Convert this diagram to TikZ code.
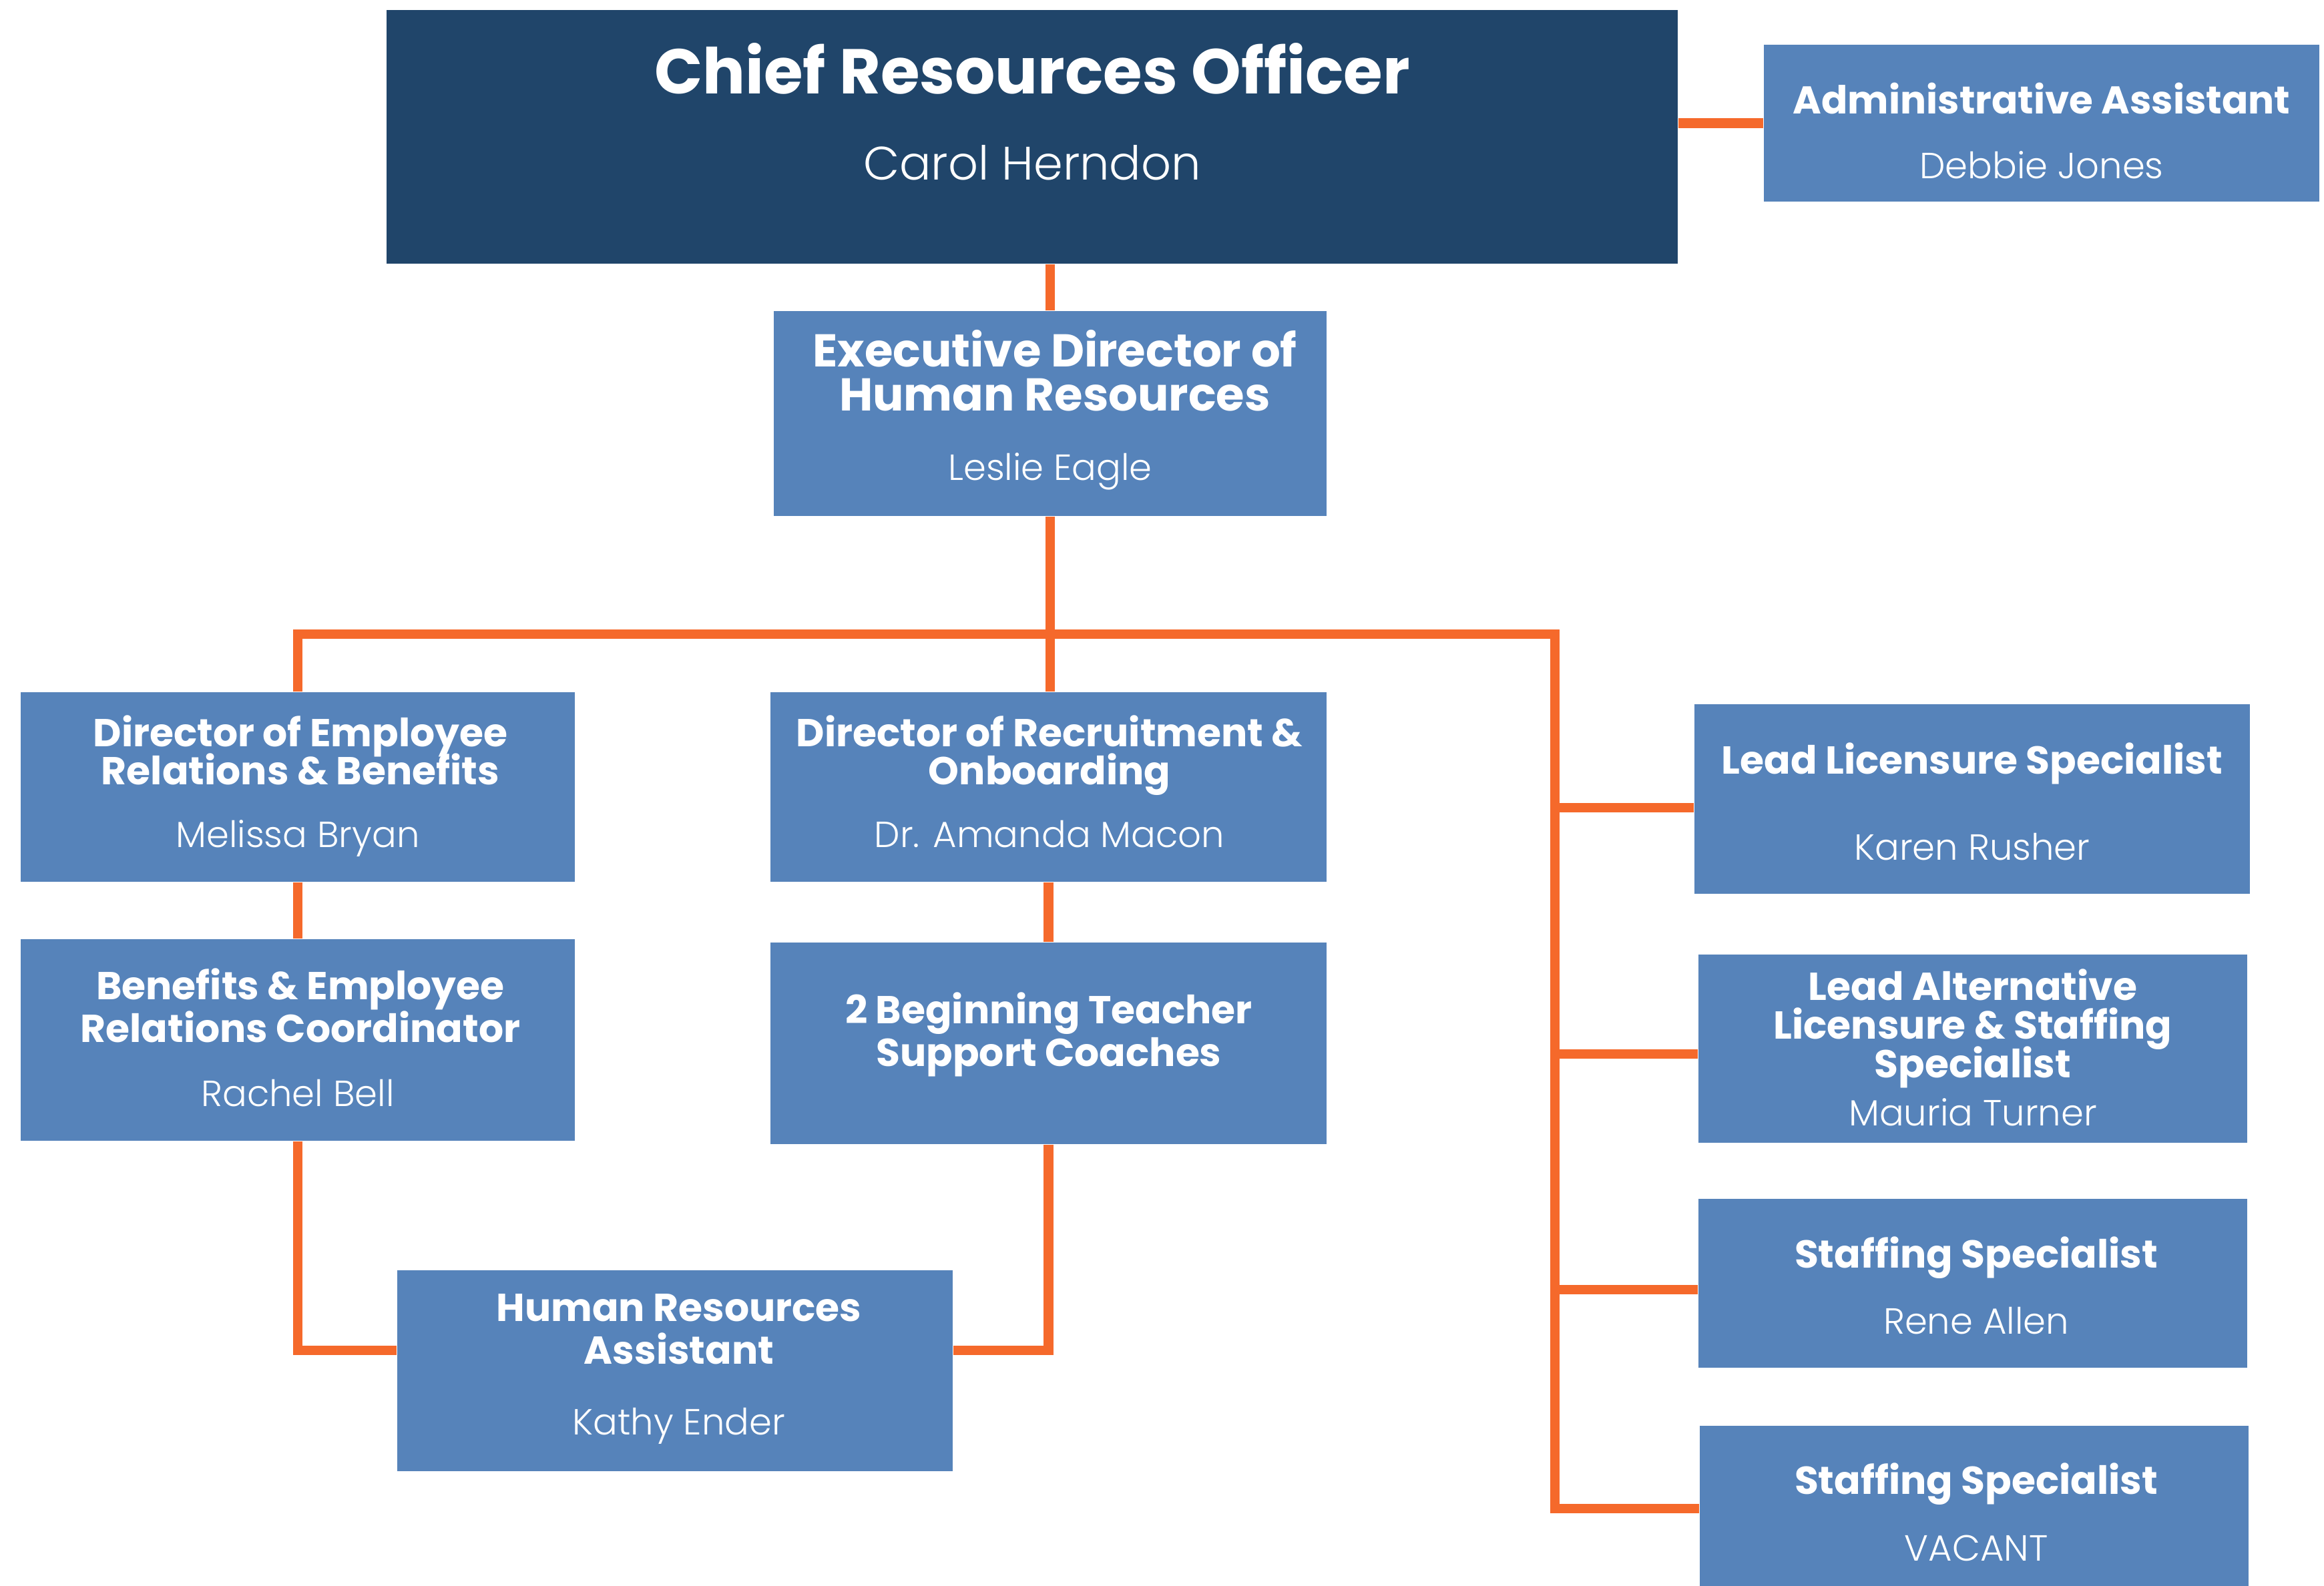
\documentclass[tikz,border=0pt]{standalone}
\usepackage{fontspec}
\setmainfont{Poppins}
\newfontfamily\headfont{Poppins}
\newfontfamily\namefont{Poppins Light}
\usepackage{tikz}
\definecolor{navy}{HTML}{20456A}
\definecolor{steel}{HTML}{5683BA}
\definecolor{flame}{HTML}{F5692B}
\newcommand\tightlines{\lineskiplimit=-50pt\relax}

\begin{document}
\begin{tikzpicture}[
	box/.style={fill=steel,shape=rectangle,inner sep=0pt},
	topbox/.style={fill=navy,shape=rectangle,inner sep=0pt},
	head/.style={text=white,anchor=base,inner sep=0pt,align=center,font=\headfont\bfseries\fontsize{16.6}{#1}\selectfont\tightlines},
	head/.default=17,
	who/.style={text=white,anchor=base,inner sep=0pt,font=\namefont\fontsize{15.5}{18}\selectfont},
	link/.style={draw=flame,line width=4pt}
]
	\useasboundingbox (0,0) rectangle (34.81,-23.75);

	\node[topbox,minimum width=19.34cm,minimum height=3.8cm] (cro) at (15.46,-2.05) {};
	\node[box,minimum width=8.32cm,minimum height=2.35cm] (admin) at (30.58,-1.845) {};
	\node[box,minimum width=8.28cm,minimum height=3.07cm] (exec) at (15.73,-6.195) {};

	\node[box,minimum width=8.3cm,minimum height=2.84cm] (dirER) at (4.46,-11.79) {};
	\node[box,minimum width=8.33cm,minimum height=2.84cm] (dirRO) at (15.705,-11.79) {};
	\node[box,minimum width=8.3cm,minimum height=3.02cm] (benco) at (4.46,-15.58) {};
	\node[box,minimum width=8.33cm,minimum height=3.02cm] (coach) at (15.705,-15.63) {};
	\node[box,minimum width=8.32cm,minimum height=3.01cm] (hra) at (10.11,-20.535) {};

	\node[box,minimum width=8.32cm,minimum height=2.84cm] (lls) at (29.54,-11.97) {};
	\node[box,minimum width=8.22cm,minimum height=2.82cm] (lals) at (29.55,-15.71) {};
	\node[box,minimum width=8.22cm,minimum height=2.53cm] (ss1) at (29.55,-19.225) {};
	\node[box,minimum width=8.22cm,minimum height=2.48cm] (ss2) at (29.57,-22.6) {};

	\coordinate (busR) at (23.29,-9.5);

	\draw[link] (admin.west) -- (admin.west -| cro.east);
	\draw[link] (exec.north) -- (exec.north |- cro.south);
	\draw[link] (exec.south) -- (exec.south |- dirRO.north);
	\draw[link] (dirER.north) |- (busR) |- (ss2.west);
	\draw[link] ([yshift=-0.13cm]lls.west) -- ([yshift=-0.13cm]lls.west -| busR);
	\draw[link] ([yshift=-0.08cm]lals.west) -- ([yshift=-0.08cm]lals.west -| busR);
	\draw[link] ([yshift=-0.09cm]ss1.west) -- ([yshift=-0.09cm]ss1.west -| busR);
	\draw[link] (dirER.south) -- (benco.north);
	\draw[link] (dirRO.south) -- (coach.north);
	\draw[link] (benco.south) |- ([yshift=0.31cm]hra.west);
	\draw[link] (coach.south) |- ([yshift=0.31cm]hra.east);

	\node[head,font=\headfont\bfseries\fontsize{27}{30}\selectfont] (croT) at (15.46,-1.40) {Chief Resources Officer};
	\node[who,font=\namefont\fontsize{20}{24}\selectfont] (croN) at (15.46,-2.69) {Carol Herndon};
	\node[head,font=\headfont\bfseries\fontsize{16.5}{19}\selectfont] (adminT) at (30.58,-1.70) {Administrative Assistant};
	\node[who] (adminN) at (30.58,-2.67) {Debbie Jones};
	\node[head,font=\headfont\bfseries\fontsize{19.6}{18.6}\selectfont\tightlines] (execT) at (15.8,-6.15) {Executive Director of\\Human Resources};
	\node[who] (execN) at (15.73,-7.19) {Leslie Eagle};

	\node[head=16.2] (dirERT) at (4.5,-11.75) {Director of Employee\\Relations \& Benefits};
	\node[who] (dirERN) at (4.46,-12.69) {Melissa Bryan};
	\node[head=16.2] (dirROT) at (15.72,-11.75) {Director of Recruitment \&\\Onboarding};
	\node[who] (dirRON) at (15.72,-12.69) {Dr. Amanda Macon};
	\node[head=18.1] (bencoT) at (4.5,-15.61) {Benefits \& Employee\\Relations Coordinator};
	\node[who] (bencoN) at (4.46,-16.57) {Rachel Bell};
	\node[head=18.1] (coachT) at (15.71,-15.97) {2 Beginning Teacher\\Support Coaches};
	\node[head=18.1] (hraT) at (10.17,-20.43) {Human Resources\\Assistant};
	\node[who] (hraN) at (10.17,-21.49) {Kathy Ender};

	\node[head] (llsT) at (29.54,-11.59) {Lead Licensure Specialist};
	\node[who] (llsN) at (29.54,-12.88) {Karen Rusher};
	\node[head=16.4] (lalsT) at (29.55,-16.14) {Lead Alternative\\Licensure \& Staffing\\Specialist};
	\node[who] (lalsN) at (29.55,-16.86) {Mauria Turner};
	\node[head] (ss1T) at (29.6,-18.99) {Staffing Specialist};
	\node[who] (ss1N) at (29.6,-19.98) {Rene Allen};
	\node[head] (ss2T) at (29.6,-22.38) {Staffing Specialist};
	\node[who] (ss2N) at (29.6,-23.38) {VACANT};
\end{tikzpicture}
\end{document}
